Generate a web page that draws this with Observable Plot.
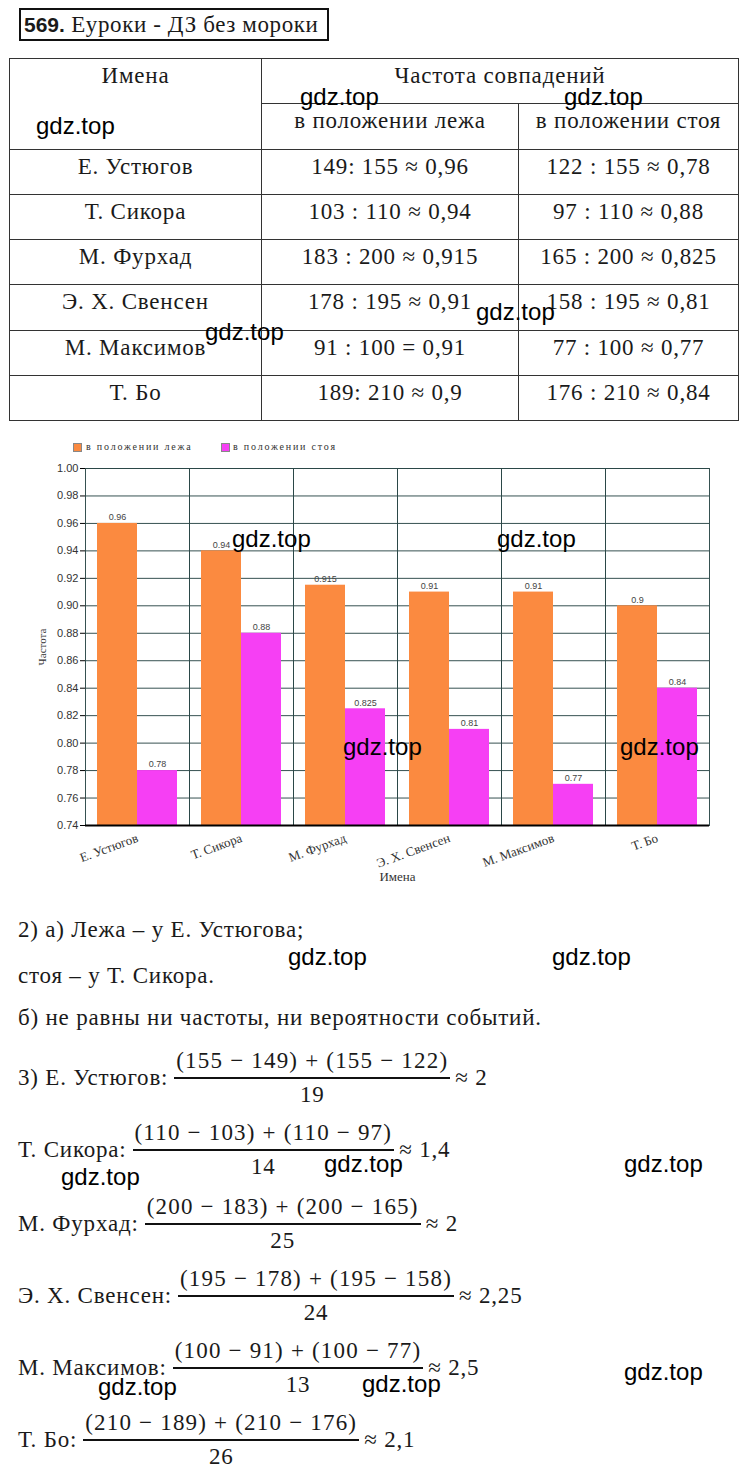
<!DOCTYPE html>
<html><head><meta charset="utf-8">
<script src="https://cdn.jsdelivr.net/npm/d3@7"></script>
<script src="https://cdn.jsdelivr.net/npm/@observablehq/plot@0.6"></script>
<style>
html,body{margin:0;padding:0;background:#fff;}
#page{position:relative;width:747px;height:1476px;overflow:hidden;font-family:"Liberation Serif","DejaVu Serif",serif;color:#1a1a1a;}
.abs{position:absolute;}
#title{left:19px;top:8px;width:303px;height:29px;border:2px solid #111;font-size:23px;line-height:30px;padding-left:3px;white-space:nowrap;letter-spacing:0.6px;}
#title b{font-family:"Liberation Sans",sans-serif;font-size:21px;letter-spacing:0;}
#tbl{left:9px;top:58px;width:729px;border-collapse:collapse;font-size:23px;letter-spacing:0.8px;table-layout:fixed;}
#tbl td{border:1px solid #333;padding:4px 0 0 0;vertical-align:top;text-align:center;line-height:26px;height:40.3px;white-space:nowrap;}
.line{font-size:23px;line-height:23px;letter-spacing:0.8px;white-space:nowrap;}
.fl{display:flex;align-items:center;font-size:23px;line-height:23px;letter-spacing:0.8px;white-space:nowrap;}
.frac{display:inline-flex;flex-direction:column;align-items:stretch;margin:0 5px 0 6px;}
.frac .num{padding:0 2px;margin-bottom:5px;text-align:center;letter-spacing:1.2px;}
.frac .bar{height:2px;background:#111;}
.frac .den{margin-top:4px;text-align:center;}
.wm{position:absolute;font-family:"Liberation Sans",Arial,sans-serif;font-size:24px;line-height:24px;color:#000;white-space:nowrap;letter-spacing:0;}
#legend{left:0;top:440px;width:747px;height:14px;font-size:10px;letter-spacing:1.8px;color:#333;}
.sw{position:absolute;top:3px;width:7px;height:7px;border:1px solid #888;}
.lt{position:absolute;top:0;line-height:14px;white-space:nowrap;}
#chart{left:0;top:455px;}
</style></head>
<body><div id="page"></div>
<script>
// ---- table data ----
const tableNames = ["Е. Устюгов","Т. Сикора","М. Фурхад","Э. Х. Свенсен","М. Максимов","Т. Бо"];
const tableLying = ["149: 155 ≈ 0,96","103 : 110 ≈ 0,94","183 : 200 ≈ 0,915","178 : 195 ≈ 0,91","91 : 100 = 0,91","189: 210 ≈ 0,9"];
const tableStanding = ["122 : 155 ≈ 0,78","97 : 110 ≈ 0,88","165 : 200 ≈ 0,825","158 : 195 ≈ 0,81","77 : 100 ≈ 0,77","176 : 210 ≈ 0,84"];

// ---- chart data ----
const names = ["Е. Устюгов","Т. Сикора","М. Фурхад","Э. Х. Свенсен","М. Максимов","Т. Бо"];
const seriesNames = ["в положении лежа","в положении стоя"];
const lyingFreq = [0.96,0.94,0.915,0.91,0.91,0.9];
const standingFreq = [0.78,0.88,0.825,0.81,0.77,0.84];
const yTicks = [0.74,0.76,0.78,0.80,0.82,0.84,0.86,0.88,0.90,0.92,0.94,0.96,0.98,1.00];
const yMin = 0.74, yMax = 1.00;
const seriesColors = ["#fb8a40","#f63ff4"];

// ---- text data ----
const answerLines = ["2) а) Лежа – у Е. Устюгова;","стоя – у Т. Сикора.","б) не равны ни частоты, ни вероятности событий."];
const fracLabels = ["3) Е. Устюгов:","Т. Сикора:","М. Фурхад:","Э. Х. Свенсен:","М. Максимов:","Т. Бо:"];
const fracNumerators = ["(155 − 149) + (155 − 122)","(110 − 103) + (110 − 97)","(200 − 183) + (200 − 165)","(195 − 178) + (195 − 158)","(100 − 91) + (100 − 77)","(210 − 189) + (210 − 176)"];
const fracDenominators = ["19","14","25","24","13","26"];
const fracResults = ["≈ 2","≈ 1,4","≈ 2","≈ 2,25","≈ 2,5","≈ 2,1"];
const watermark = "gdz.top";

// ---- layout (positions only) ----
const answerBaselines = [937,983,1025];
const fracBarY = [1078,1150,1224,1296,1368,1440];
const wmPos = [[36,114],[300,85],[564,85],[205,320],[476,300],[232,527],[497,527],[343,735],[620,735],[288,945],[552,945],[61,1165],[324,1152],[624,1152],[98,1375],[362,1372],[624,1360]];

const page = document.getElementById("page");
function el(tag, cls, html, parent) { const e = document.createElement(tag); if (cls) e.className = cls; if (html != null) e.innerHTML = html; (parent||page).appendChild(e); return e; }

// title
const t = el("div","abs",null); t.id = "title"; t.innerHTML = "<b>569.</b> Еуроки - ДЗ без мороки";

// table
const tbl = el("table","abs",null); tbl.id = "tbl";
const cg = el("colgroup",null,null,tbl);
[252,257,220].forEach(w => { const c = el("col",null,null,cg); c.style.width = w+"px"; });
const tb = el("tbody",null,null,tbl);
let r = el("tr",null,null,tb);
let c = el("td",null,"Имена",r); c.rowSpan = 2;
c = el("td",null,"Частота совпадений",r); c.colSpan = 2;
r = el("tr",null,null,tb);
el("td",null,seriesNames[0],r);
el("td",null,seriesNames[1],r);
tableNames.forEach((n,i) => { const row = el("tr",null,null,tb); el("td",null,n,row); el("td",null,tableLying[i],row); el("td",null,tableStanding[i],row); });

// legend
const lg = el("div","abs",null); lg.id = "legend";
[[73,86],[221,233]].forEach(([sx,tx],i) => {
  const s = el("div","sw",null,lg); s.style.left = sx+"px"; s.style.background = seriesColors[i];
  const tt = el("div","lt",seriesNames[i],lg); tt.style.left = tx+"px";
});

// chart
const data = names.flatMap((n,i) => [
  {name:n, series:seriesNames[0], value:lyingFreq[i]},
  {name:n, series:seriesNames[1], value:standingFreq[i]}
]);
const chart = Plot.plot({
  width: 747, height: 435,
  marginLeft: 83, marginRight: 37, marginTop: 13, marginBottom: 65,
  style: {fontFamily: "'Liberation Sans', sans-serif", fontSize: "11px", color: "#333", background: "transparent"},
  fx: {domain: names, padding: 0},
  x: {domain: seriesNames, axis: null, paddingInner: 0, paddingOuter: 0.27},
  y: {domain: [yMin, yMax]},
  color: {domain: seriesNames, range: seriesColors},
  marks: [
    Plot.gridY(yTicks, {stroke: "#2b4848", strokeOpacity: 0.95}),
    Plot.frame({stroke: "#2b4848", strokeOpacity: 0.95}),
    Plot.barY(data, {fx: "name", x: "series", y1: () => yMin, y2: "value", fill: "series"}),
    Plot.text(data, {fx: "name", x: "series", y: "value", text: d => String(d.value), dy: -6, fontSize: 9, fill: "#444"}),
    Plot.ruleY([yMin], {stroke: "#000", strokeWidth: 2}),
    Plot.axisY(yTicks, {tickSize: 5, tickPadding: 2, tickFormat: d3.format(".2f"), label: "Частота", labelAnchor: "center", labelArrow: "none", labelOffset: 47, fontSize: 11, stroke: "#000"}),
    Plot.axisFx({anchor: "bottom", tickRotate: -20, tickSize: 0, tickPadding: 12, label: "Имена", labelAnchor: "center", labelArrow: "none", labelOffset: 55, fontSize: 13})
  ]
});
const holder = el("div","abs",null); holder.id = "chart";
holder.appendChild(chart);
chart.querySelectorAll('[aria-label^="fx-axis"] text, [aria-label="y-axis label"] text').forEach(n => n.setAttribute("font-family","'Liberation Serif', serif"));

// answer lines
answerLines.forEach((s,i) => { const d = el("div","abs line",s); d.style.left = "18px"; d.style.top = (answerBaselines[i]-19.3)+"px"; });

// fraction lines
fracLabels.forEach((lab,i) => {
  const d = el("div","abs fl",null); d.style.left = "18px"; d.style.top = (fracBarY[i]-29)+"px";
  el("span",null,lab,d);
  const f = el("span","frac",null,d);
  el("span","num",fracNumerators[i],f);
  el("span","bar",null,f);
  el("span","den",fracDenominators[i],f);
  el("span",null,fracResults[i],d);
});

// watermarks
wmPos.forEach(([x,y]) => { const w = el("div","wm",watermark); w.style.left = x+"px"; w.style.top = y+"px"; });
</script>
</body></html>
